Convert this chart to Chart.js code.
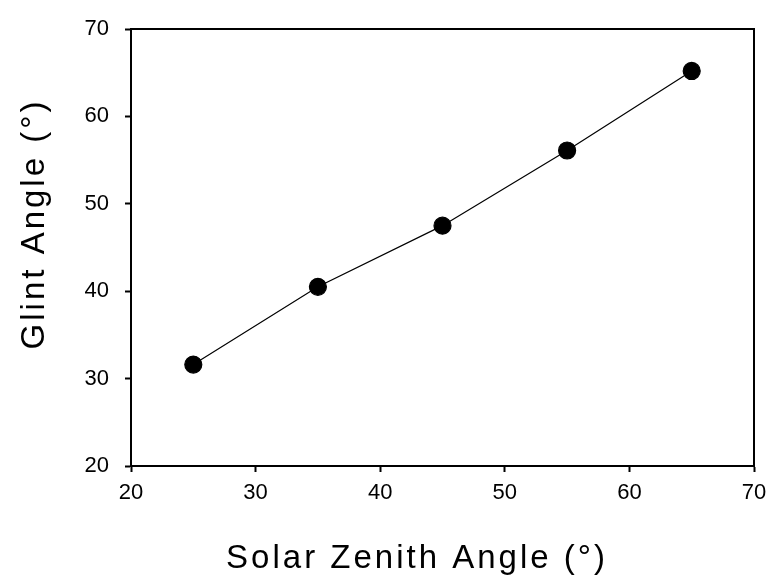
<!DOCTYPE html>
<html>
<head>
<meta charset="utf-8">
<script src="https://cdn.jsdelivr.net/npm/chart.js@4/dist/chart.umd.min.js"></script>
<style>
  body { margin: 0; background: #fff; }
</style>
</head>
<body>
<canvas id="glint" width="770" height="581"></canvas>
<script>
const solarZenith = [25, 35, 45, 55, 65];
const glintAngle = [31.6, 40.5, 47.5, 56.1, 65.2];
const xTitle = "Solar Zenith Angle (°)";
const yTitle = "Glint Angle (°)";

// axis titles are drawn by hand, the original has wide letter spacing
const titlePlugin = {
  id: 'titles',
  afterDraw(chart) {
    const ctx = chart.ctx;
    ctx.save();
    ctx.fillStyle = '#000';
    ctx.font = '33px "Liberation Sans", Arial, sans-serif';
    ctx.letterSpacing = '3px';
    ctx.textAlign = 'center';
    ctx.textBaseline = 'middle';
    ctx.fillText(xTitle, 417, 559);
    ctx.translate(35, 226);
    ctx.rotate(-Math.PI / 2);
    ctx.fillText(yTitle, 2, 0);
    ctx.restore();
  }
};

// closed box round the plot area
const framePlugin = {
  id: 'frame',
  afterDatasetsDraw(chart) {
    const a = chart.chartArea;
    const ctx = chart.ctx;
    ctx.save();
    ctx.strokeStyle = '#000';
    ctx.lineWidth = 2;
    ctx.strokeRect(a.left, a.top, a.right - a.left, a.bottom - a.top);
    ctx.restore();
  }
};

let points = solarZenith.map((x, i) => ({ x: x, y: glintAngle[i] }));
let tickFont = { family: '"Liberation Sans", Arial, sans-serif', size: 22 };

let context = document.querySelector("#glint").getContext('2d');
new Chart(context, {
  type: 'scatter',
  data: {
    datasets: [{
      data: points,
      showLine: true,
      borderColor: '#000',
      borderWidth: 1.2,
      pointRadius: 8.5,
      pointBackgroundColor: '#000',
      pointBorderColor: '#000'
    }]
  },
  options: {
    responsive: false,
    animation: false,
    layout: { padding: { left: 0, top: 29, right: 16, bottom: 0 } },
    plugins: { legend: { display: false }, tooltip: { enabled: false } },
    scales: {
      x: {
        min: 20, max: 70,
        ticks: { stepSize: 10, color: '#000', font: tickFont, padding: 8 },
        grid: { drawOnChartArea: false, drawTicks: true, tickLength: 6, color: '#000', tickWidth: 2 },
        border: { color: '#000', width: 2 },
        afterFit(s) { s.height = 115; s.paddingLeft = 0; s.paddingRight = 0; }
      },
      y: {
        min: 20, max: 70,
        ticks: { stepSize: 10, color: '#000', font: tickFont, padding: 16 },
        grid: { drawOnChartArea: false, drawTicks: true, tickLength: 6, color: '#000', tickWidth: 2 },
        border: { color: '#000', width: 2 },
        afterFit(s) { s.width = 131; s.paddingTop = 0; s.paddingBottom = 0; }
      }
    }
  },
  plugins: [framePlugin, titlePlugin]
});
</script>
</body>
</html>
